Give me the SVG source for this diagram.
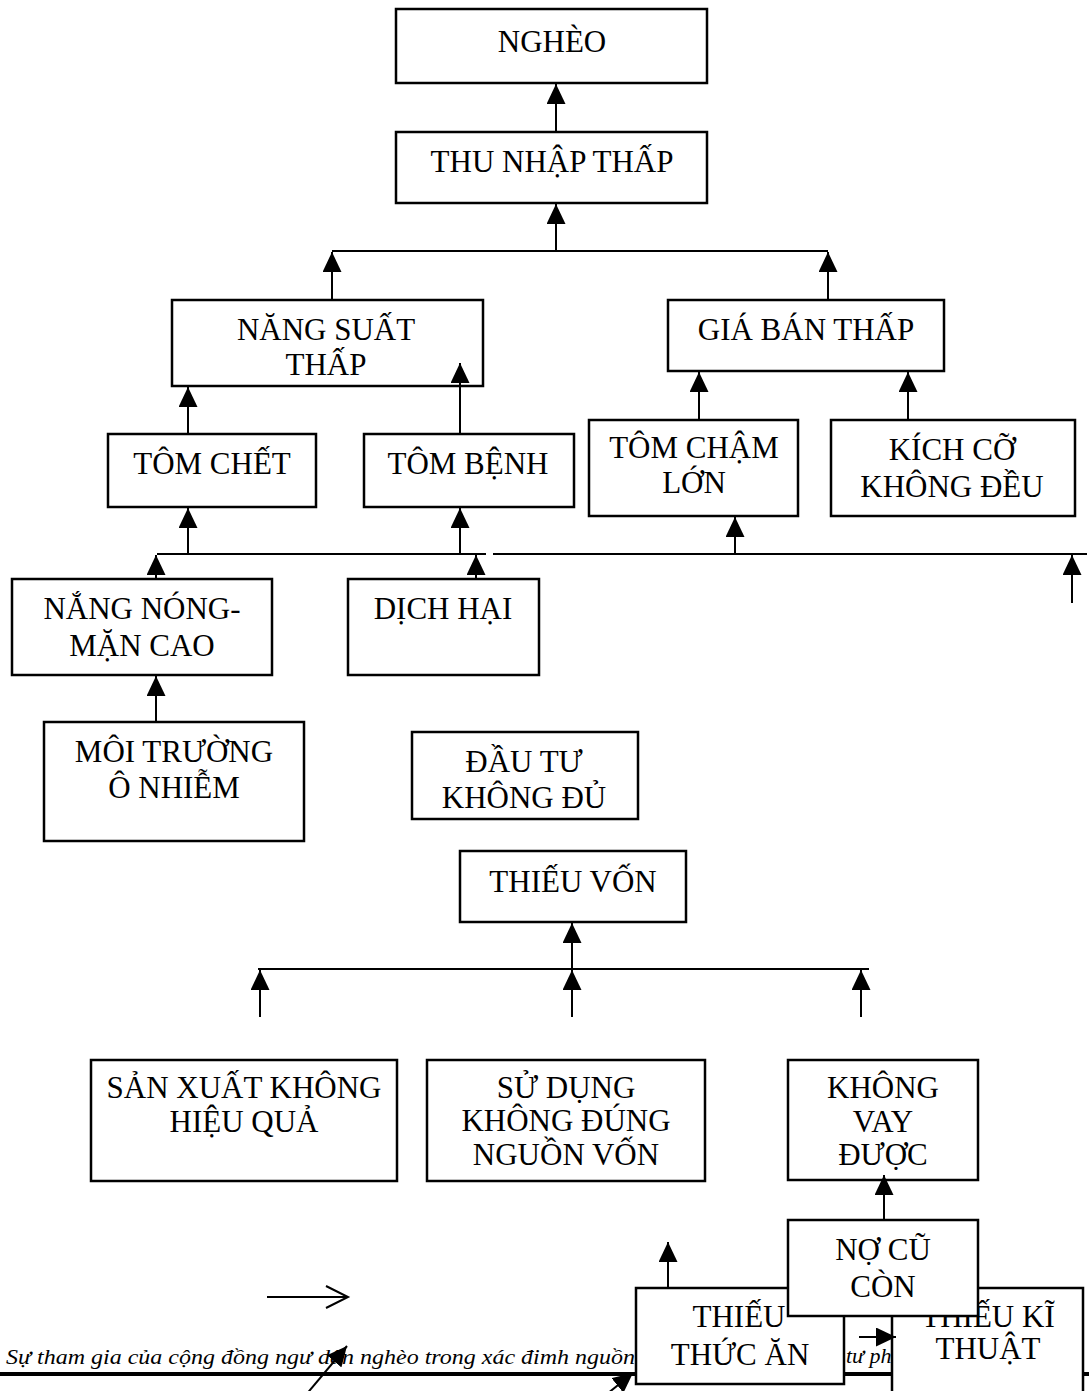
<svg xmlns="http://www.w3.org/2000/svg" width="1089" height="1391" viewBox="0 0 1089 1391">
<defs>
<style>
.box{fill:#fff;stroke:#000;stroke-width:2.5}
.t{font-family:'Liberation Serif','DejaVu Serif',serif;font-size:31px;text-anchor:middle;fill:#000}
.c{stroke:#000;stroke-width:2;fill:none}
.a{stroke:#000;stroke-width:2;fill:none;marker-end:url(#ah)}
.it{font-family:'Liberation Serif','DejaVu Serif',serif;font-size:22px;font-style:italic;fill:#000}
</style>
<marker id="ah" viewBox="0 0 20 19" refX="20" refY="9.5" markerWidth="20" markerHeight="19" markerUnits="userSpaceOnUse" orient="auto">
<path d="M0,0 L20,9.5 L0,19 z" fill="#000"/>
</marker>
</defs>
<rect width="1089" height="1391" fill="#fff"/>
<g id="background">
<line x1="0" y1="1374" x2="1089" y2="1374" stroke="#000" stroke-width="4"/>
<text class="it" x="6" y="1364" textLength="629" lengthAdjust="spacingAndGlyphs">Sự tham gia của cộng đồng ngư dân nghèo trong xác đimh nguồn</text>
<text class="it" x="846" y="1363">tư ph</text>
</g>
<g id="nodes">
<g id="n_ngheo"><rect class="box" x="396" y="9" width="311" height="74"/><text class="t" x="552" y="52">NGHÈO</text></g>
<g id="n_thunhap"><rect class="box" x="396" y="132" width="311" height="71"/><text class="t" x="552" y="172">THU NHẬP THẤP</text></g>
<g id="n_nangsuat"><rect class="box" x="172" y="300" width="311" height="86"/><text class="t" x="326" y="340">NĂNG SUẤT</text><text class="t" x="326" y="375">THẤP</text></g>
<g id="n_giaban"><rect class="box" x="668" y="300" width="276" height="71"/><text class="t" x="806" y="340">GIÁ BÁN THẤP</text></g>
<g id="n_tomchet"><rect class="box" x="108" y="434" width="208" height="73"/><text class="t" x="212" y="474">TÔM CHẾT</text></g>
<g id="n_tombenh"><rect class="box" x="364" y="434" width="210" height="73"/><text class="t" x="468" y="474">TÔM BỆNH</text></g>
<g id="n_tomcham"><rect class="box" x="589" y="420" width="209" height="96"/><text class="t" x="694" y="458">TÔM CHẬM</text><text class="t" x="694" y="493">LỚN</text></g>
<g id="n_kichco"><rect class="box" x="831" y="420" width="244" height="96"/><text class="t" x="952" y="460">KÍCH CỠ</text><text class="t" x="952" y="497">KHÔNG ĐỀU</text></g>
<g id="n_nangnong"><rect class="box" x="12" y="579" width="260" height="96"/><text class="t" x="142" y="619">NẮNG NÓNG-</text><text class="t" x="142" y="656">MẶN CAO</text></g>
<g id="n_dichhai"><rect class="box" x="348" y="579" width="191" height="96"/><text class="t" x="443" y="619">DỊCH HẠI</text></g>
<g id="n_moitruong"><rect class="box" x="44" y="722" width="260" height="119"/><text class="t" x="174" y="762">MÔI TRƯỜNG</text><text class="t" x="174" y="798">Ô NHIỄM</text></g>
<g id="n_dautu"><rect class="box" x="412" y="732" width="226" height="87"/><text class="t" x="524" y="772">ĐẦU TƯ</text><text class="t" x="524" y="808">KHÔNG ĐỦ</text></g>
<g id="n_thieuvon"><rect class="box" x="460" y="851" width="226" height="71"/><text class="t" x="573" y="892">THIẾU VỐN</text></g>
<g id="n_sanxuat"><rect class="box" x="91" y="1060" width="306" height="121"/><text class="t" x="244" y="1098">SẢN XUẤT KHÔNG</text><text class="t" x="244" y="1132">HIỆU QUẢ</text></g>
<g id="n_sudung"><rect class="box" x="427" y="1060" width="278" height="121"/><text class="t" x="566" y="1098">SỬ DỤNG</text><text class="t" x="566" y="1131">KHÔNG ĐÚNG</text><text class="t" x="566" y="1165">NGUỒN VỐN</text></g>
<g id="n_khongvay"><rect class="box" x="788" y="1060" width="190" height="120"/><text class="t" x="883" y="1098">KHÔNG</text><text class="t" x="883" y="1132">VAY</text><text class="t" x="883" y="1165">ĐƯỢC</text></g>
<g id="n_thieuthucan"><rect class="box" x="636" y="1288" width="208" height="96"/><text class="t" x="739" y="1327">THIẾU</text><text class="t" x="740" y="1365">THỨC ĂN</text></g>
<g id="n_thieukithuat"><rect class="box" x="892" y="1288" width="191" height="120"/><text class="t" x="988" y="1327">THIẾU KĨ</text><text class="t" x="988" y="1359">THUẬT</text></g>
<g id="n_nocu"><rect class="box" x="788" y="1220" width="190" height="96"/><text class="t" x="883" y="1260">NỢ CŨ</text><text class="t" x="883" y="1297">CÒN</text></g>
</g>
<g id="connectors">
<line class="a" x1="556" y1="132" x2="556" y2="84"/>
<line class="a" x1="556" y1="251" x2="556" y2="204"/>
<line class="c" x1="332" y1="251" x2="828" y2="251"/>
<line class="a" x1="332" y1="300" x2="332" y2="252"/>
<line class="a" x1="828" y1="300" x2="828" y2="252"/>
<line class="a" x1="460" y1="434" x2="460" y2="363"/>
<line class="a" x1="188" y1="434" x2="188" y2="387"/>
<line class="a" x1="699" y1="420" x2="699" y2="372"/>
<line class="a" x1="908" y1="420" x2="908" y2="372"/>
<line class="c" x1="157" y1="554" x2="486" y2="554"/>
<line class="c" x1="493" y1="554" x2="1087" y2="554"/>
<line class="a" x1="188" y1="554" x2="188" y2="508"/>
<line class="a" x1="460" y1="554" x2="460" y2="508"/>
<line class="a" x1="735" y1="554" x2="735" y2="517"/>
<line class="a" x1="156" y1="579" x2="156" y2="555"/>
<line class="a" x1="476" y1="579" x2="476" y2="555"/>
<line class="a" x1="1072" y1="603" x2="1072" y2="555"/>
<line class="a" x1="156" y1="722" x2="156" y2="676"/>
<line class="a" x1="572" y1="969" x2="572" y2="923"/>
<line class="c" x1="258" y1="969" x2="869" y2="969"/>
<line class="a" x1="260" y1="1017" x2="260" y2="970"/>
<line class="a" x1="572" y1="1017" x2="572" y2="970"/>
<line class="a" x1="861" y1="1017" x2="861" y2="970"/>
<line class="a" x1="884" y1="1220" x2="884" y2="1175"/>
<line class="a" x1="668" y1="1288" x2="668" y2="1242"/>
<line class="a" x1="859" y1="1337" x2="896" y2="1337"/>
<path class="c" stroke-width="1.5" d="M267,1297 H348 M326,1286 L348,1297 L326,1308"/>
<line class="a" x1="305" y1="1396" x2="347" y2="1346"/>
<line class="a" x1="602" y1="1398" x2="633" y2="1373"/>
</g>
</svg>
